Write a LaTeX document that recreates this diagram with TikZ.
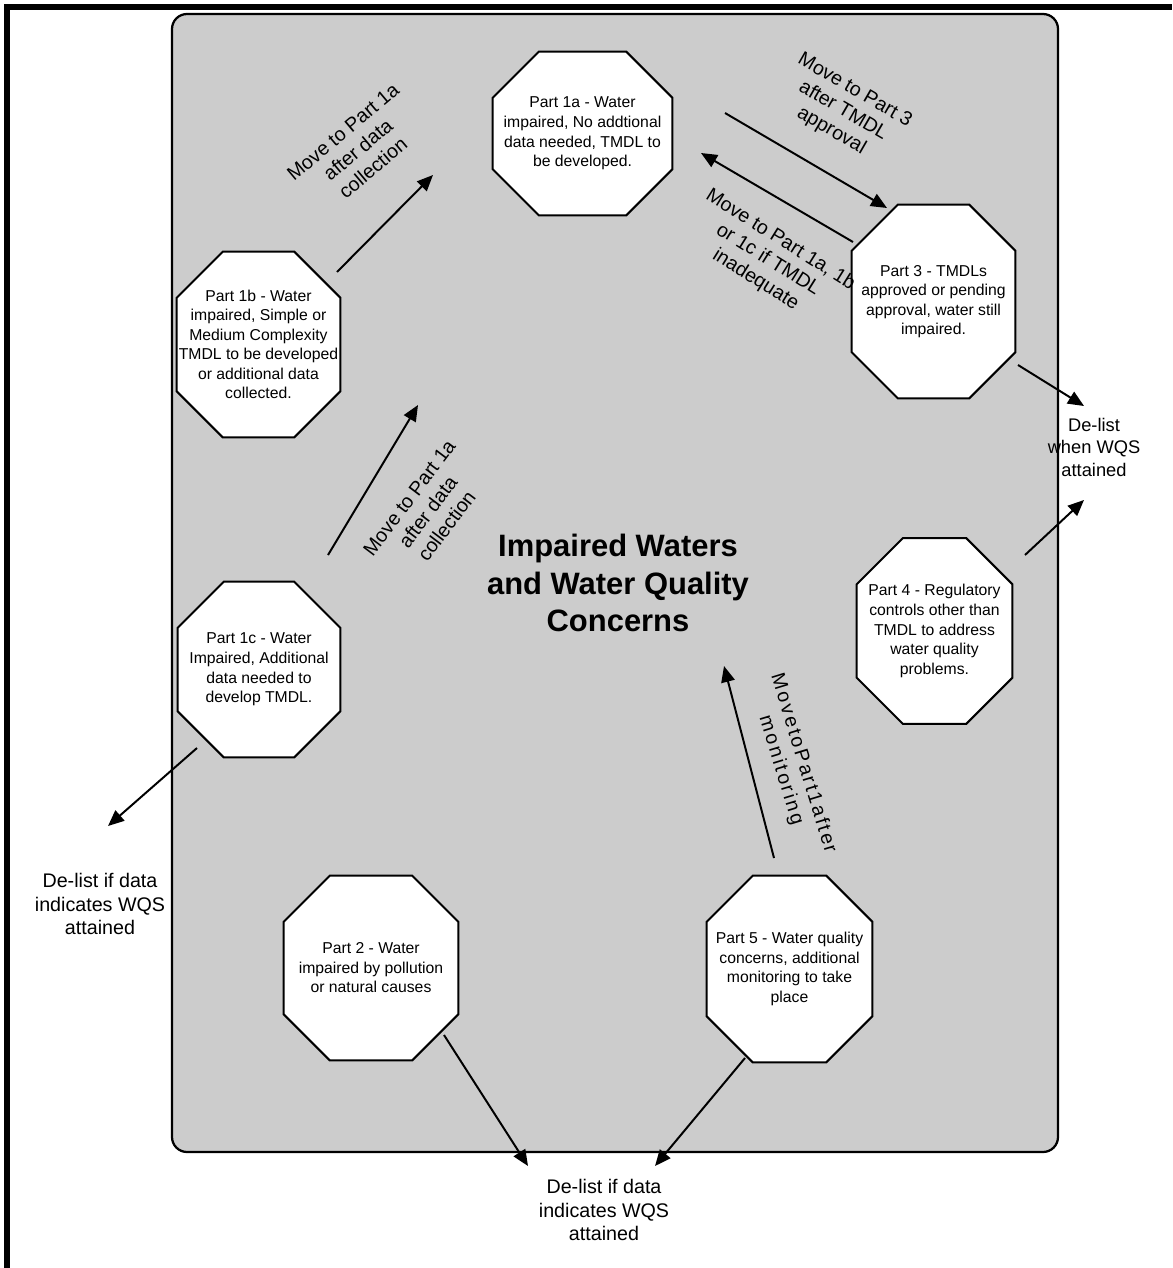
\documentclass[tikz,border=0pt]{standalone}
\usepackage{fontspec}
\setmainfont{Liberation Sans}
\newfontfamily\spreadfont[LetterSpace=12]{Liberation Sans}
\usetikzlibrary{calc,arrows.meta}
\definecolor{boxgray}{HTML}{CCCCCC}
\pgfdeclarelayer{back}
\pgfdeclarelayer{background}
\pgfsetlayers{back,background,main}
\begin{document}
\begin{tikzpicture}[x=0.025cm,y=-0.025cm,
		part/.style={rectangle,inner sep=0pt,align=center,
			font=\fontsize{11.2}{13.9}\selectfont},
		octo/.style={draw,line width=1.4pt,fill=white,line join=miter},
		note/.style={align=center,inner sep=0pt,font=\fontsize{14}{16.6}\selectfont},
		marrow/.style={-{Triangle[length=0.4cm,width=0.34cm]},line width=1.4pt}]
		\useasboundingbox (0,0) rectangle (1172,1268);
		\begin{pgfonlayer}{back}
			\draw[line width=0.15cm] (7,1268) -- (7,7) -- (1172,7);
			\draw[rounded corners=0.375cm,fill=boxgray,line width=1.6pt] (172,14) rectangle (1058,1152);
		\end{pgfonlayer}

		\node[part,minimum width=4.475cm,minimum height=4.075cm] (p1a) at (582.5,133.5)
			{Part 1a - Water\\impaired, No addtional\\data needed, TMDL to\\be developed.};
		\node[part,minimum width=4.075cm,minimum height=4.625cm] (p1b) at (258.5,344.5)
			{Part 1b - Water\\impaired, Simple or\\Medium Complexity\\TMDL to be developed\\or additional data\\collected.};
		\node[part,minimum width=4.05cm,minimum height=4.375cm] (p1c) at (259,669.5)
			{Part 1c - Water\\Impaired, Additional\\data needed to\\develop TMDL.};
		\node[part,minimum width=4.35cm,minimum height=4.6cm] (p2) at (371,968)
			{Part 2 - Water\\impaired by pollution\\or natural causes};
		\node[part,minimum width=4.125cm,minimum height=4.65cm] (p5) at (789.5,969)
			{Part 5 - Water quality\\concerns, additional\\monitoring to take\\place};
		\node[part,minimum width=4.075cm,minimum height=4.825cm] (p3) at (933.5,301.5)
			{Part 3 - TMDLs\\approved or pending\\approval, water still\\impaired.};
		\node[part,minimum width=3.875cm,minimum height=4.625cm] (p4) at (934.5,631)
			{Part 4 - Regulatory\\controls other than\\TMDL to address\\water quality\\problems.};

		% octagon outlines behind the texts
		\begin{pgfonlayer}{background}
			\foreach \n in {p1a,p1b,p1c,p2,p5,p3,p4}
				\draw[octo] ($(\n.north west)+(46,0)$) -- ($(\n.north east)+(-46,0)$)
					-- ($(\n.north east)+(0,46)$) -- ($(\n.south east)+(0,-46)$)
					-- ($(\n.south east)+(-46,0)$) -- ($(\n.south west)+(46,0)$)
					-- ($(\n.south west)+(0,-46)$) -- ($(\n.north west)+(0,46)$) -- cycle;
		\end{pgfonlayer}

		\node[align=center,font=\fontsize{22}{26.5}\selectfont\bfseries] (title) at (618,583)
			{Impaired Waters\\and Water Quality\\Concerns};

		% labels
		\node[note,rotate=40] (m1b) at (358,150) {Move to Part 1a\\after data\\collection};
		\node[note,rotate=53] (m1c) at (428,512) {Move to Part 1a\\after data\\collection};
		\node[note,rotate=-30] (m3) at (843,111) {Move to Part 3\\after TMDL\\approval};
		\node[note,rotate=-32] (mback) at (768,260) {Move to Part 1a, 1b\\or 1c if TMDL\\inadequate};
		\node[note,rotate=-73,font=\fontsize{14}{16.6}\spreadfont] (mmon) at (792,767) {MovetoPart1after\\monitoring};
		\node[note,font=\fontsize{13}{16}\selectfont] (dright) at (1094,447) {De-list\\when WQS\\attained};
		\node[note] (dleft) at (100,904) {De-list if data\\indicates WQS\\attained};
		\node[note] (dbottom) at (604,1210) {De-list if data\\indicates WQS\\attained};

		% connection
		\coordinate (a1s) at (337,272);   \coordinate (a1e) at (433,175);
		\coordinate (a2s) at (328,555);   \coordinate (a2e) at (418,405);
		\coordinate (a3s) at (725,113);   \coordinate (a3e) at (887,208);
		\coordinate (a4s) at (853,242);   \coordinate (a4e) at (701,153);
		\coordinate (a5s) at (1018,365);  \coordinate (a5e) at (1084,406);
		\coordinate (a6s) at (1025,555);  \coordinate (a6e) at (1084,500);
		\coordinate (a7s) at (197,748);   \coordinate (a7e) at (108,826);
		\coordinate (a8s) at (774,858);   \coordinate (a8e) at (724,666);
		\coordinate (a9s) at (444,1035);  \coordinate (a9e) at (528,1166);
		\coordinate (a10s) at (745,1058); \coordinate (a10e) at (655,1166);
		\draw [marrow] (a1s) -- (a1e);
		\draw [marrow] (a2s) -- (a2e);
		\draw [marrow] (a3s) -- (a3e);
		\draw [marrow] (a4s) -- (a4e);
		\draw [marrow] (a5s) -- (a5e);
		\draw [marrow] (a6s) -- (a6e);
		\draw [marrow] (a7s) -- (a7e);
		\draw [marrow] (a8s) -- (a8e);
		\draw [marrow] (a9s) -- (a9e);
		\draw [marrow] (a10s) -- (a10e);
\end{tikzpicture}
\end{document}
